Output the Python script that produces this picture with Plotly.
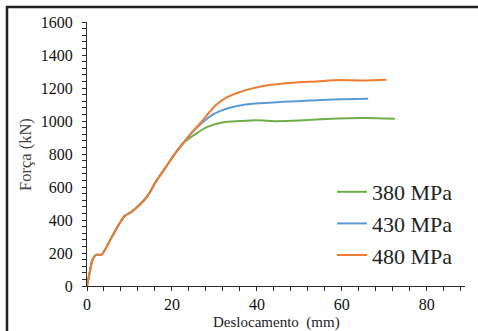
import plotly.graph_objects as go

# ---- data ----
common_x = [0, 0.6, 1.3, 2.1, 3.4, 6.0, 8.8, 10.4, 12.5, 14.3, 16.4, 18.6, 20.5, 22.7]
common_y = [0, 77, 159, 189, 190, 305, 423, 448, 495, 548, 640, 722, 795, 868]

x380 = common_x + [25.8, 28.2, 32.1, 36.0, 39.9, 44.6, 50.0, 56.4, 65.5, 72.5]
y380 = common_y + [925, 963, 992, 1000, 1005, 999, 1003, 1012, 1018, 1013]

x430 = common_x + [24.8, 26.6, 29.7, 33.6, 38.4, 43.0, 46.2, 52.5, 58.0, 66.2]
y430 = common_y + [932, 978, 1040, 1080, 1103, 1111, 1116, 1124, 1131, 1135]

x480 = common_x + [25.0, 27.4, 28.9, 30.5, 32.9, 36.0, 39.1, 43.0, 48.5, 54.0, 59.5, 65.0, 70.5]
y480 = common_y + [940, 1008, 1056, 1100, 1143, 1176, 1198, 1218, 1232, 1240, 1248, 1245, 1250]

names = ["380 MPa", "430 MPa", "480 MPa"]
colors = ["#70AD47", "#5B9BD5", "#ED7D31"]

x_range = [0, 89]
y_range = [0, 1600]

x_title = "Deslocamento&nbsp;&nbsp;(mm)"
y_title = "Força (kN)"

# ---- layout geometry (pixels) ----
W, H = 478, 331
L, R, T, B = 87, 13, 22, 45
pw, ph = W - L - R, H - T - B

def px_x(p):
    return (p - L) / pw

def px_y(p):
    return (H - B - p) / ph

fig = go.Figure()
for xs, ys, n, c in zip([x380, x430, x480], [y380, y430, y480], names, colors):
    fig.add_trace(go.Scatter(x=xs, y=ys, mode="lines", name=n, legendgroup=n,
                             line=dict(color=c, width=2, shape="spline", smoothing=0.8)))

serif = "Liberation Serif, Times New Roman, DejaVu Serif, serif"
axcol = "#2b2b2b"

fig.update_layout(
    width=W, height=H,
    margin=dict(l=L, r=R, t=T, b=B, autoexpand=False),
    paper_bgcolor="white", plot_bgcolor="white",
    font=dict(family=serif),
    showlegend=True,
    legend=dict(x=px_x(332), y=px_y(171), xanchor="left", yanchor="top",
                font=dict(family=serif, size=22, color="#222"),
                bgcolor="rgba(0,0,0,0)", tracegroupgap=0, itemwidth=30),
    xaxis=dict(range=x_range, dtick=20, tick0=0, showgrid=False, zeroline=False, automargin=False,
               showline=True, linecolor=axcol, linewidth=1.3,
               ticks="outside", ticklen=4, tickcolor=axcol, tickwidth=1.2,
               minor=dict(dtick=4, tick0=0, ticks="outside", ticklen=4, tickcolor=axcol, tickwidth=1.2),
               tickfont=dict(family=serif, size=16, color="#111")),
    yaxis=dict(range=y_range, dtick=200, tick0=0, showgrid=False, zeroline=False, automargin=False,
               showline=True, linecolor=axcol, linewidth=1.3,
               ticks="outside", ticklen=4, tickcolor=axcol, tickwidth=1.2,
               minor=dict(dtick=40, tick0=0, ticks="outside", ticklen=4, tickcolor=axcol, tickwidth=1.2),
               tickfont=dict(family=serif, size=16, color="#111"),
               ticklabelstandoff=6),
    xaxis2=dict(overlaying="x", anchor="y", side="bottom", range=x_range, dtick=4, tick0=0,
                ticks="inside", ticklen=4, tickcolor=axcol, tickwidth=1.2, automargin=False,
                showticklabels=False, showline=False, showgrid=False, zeroline=False),
    yaxis2=dict(overlaying="y", anchor="x", side="left", range=y_range, dtick=40, tick0=0,
                ticks="inside", ticklen=4, tickcolor=axcol, tickwidth=1.2, automargin=False,
                showticklabels=False, showline=False, showgrid=False, zeroline=False),
    annotations=[
        dict(text=x_title, xref="paper", yref="paper", x=px_x(276), y=px_y(322.5),
             xanchor="center", yanchor="middle", showarrow=False,
             font=dict(family=serif, size=15, color="#222")),
        dict(text=y_title, xref="paper", yref="paper", x=px_x(25), y=px_y(155),
             xanchor="center", yanchor="middle", showarrow=False, textangle=-90,
             font=dict(family=serif, size=16.5, color="#444")),
    ],
    shapes=[
        dict(type="line", xref="paper", yref="paper", x0=px_x(6), x1=px_x(W + 2),
             y0=px_y(7), y1=px_y(7), line=dict(color="#222", width=2.5)),
        dict(type="line", xref="paper", yref="paper", x0=px_x(7), x1=px_x(7),
             y0=px_y(6), y1=px_y(H + 2), line=dict(color="#222", width=2.5)),
    ],
)

fig.write_html("out.html", config={"displayModeBar": False},
               post_script="document.body.style.margin='0';document.body.style.padding='0';")
